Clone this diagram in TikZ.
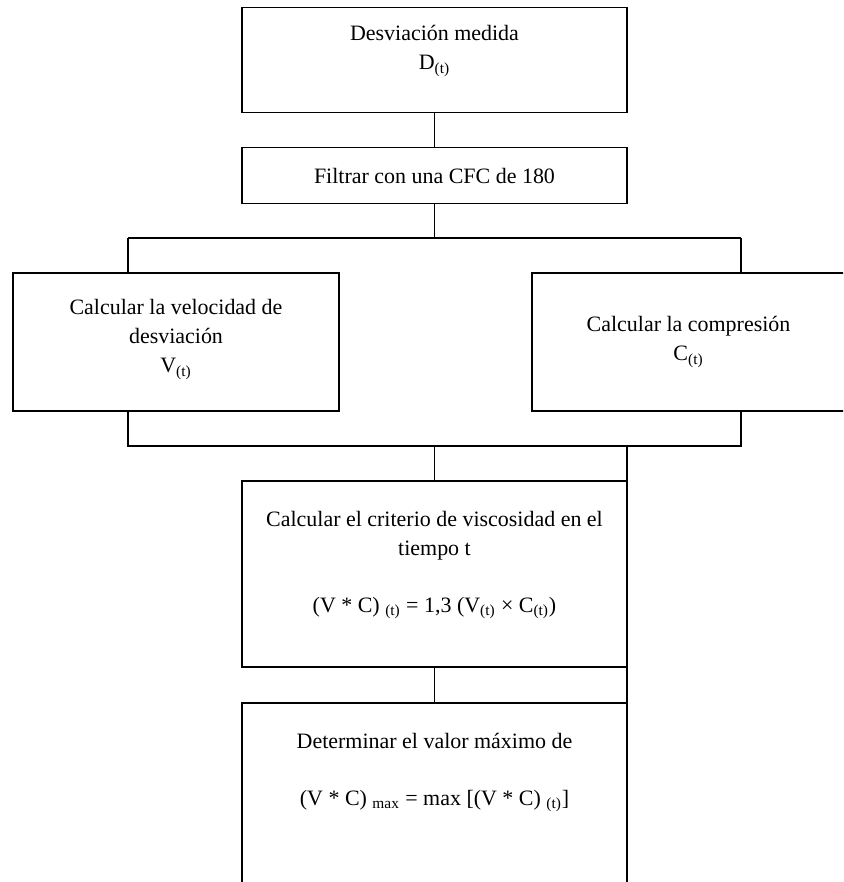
\documentclass[tikz,border=0pt]{standalone}
\usepackage{fontspec}
\setmainfont{Liberation Serif}
\usetikzlibrary{calc}

\tikzset{
  caja/.style = {draw, rectangle, outer sep=0pt, text width=6cm, align=flush center, font=\fontsize{12.5}{16.6}\selectfont},
}

\begin{document}
\begin{tikzpicture}[x=0.02cm, y=-0.02cm, line width=1pt]
      \useasboundingbox (0,0) rectangle (843,882);
      \clip (0,0) rectangle (843,882);
      \node [caja, minimum height = 2.1cm, minimum width = 7.7cm] (medida) at (434.5,60) {
        Desviación medida\\D\textsubscript{(t)}\rule[-14pt]{0pt}{0pt}};
      \node [caja, minimum height = 1.12cm, minimum width = 7.7cm] (filtro) at (434.5,175.5) {
        Filtrar con una CFC de 180};
      \node [caja, minimum height = 2.76cm, minimum width = 6.52cm] (velocidad) at (176,342) {
        Calcular la velocidad de\\desviación\\V\textsubscript{(t)}\rule[-7pt]{0pt}{0pt}};
      \node [caja, minimum height = 2.76cm, minimum width = 6.26cm] (compresion) at (688.5,342) {
        Calcular la compresión\\C\textsubscript{(t)}};
      \node [caja, text width=7cm, minimum height = 3.72cm, minimum width = 7.7cm] (criterio) at (434.5,574) {
        Calcular el criterio de viscosidad en el\\tiempo t\\[15.8pt]
        (V * C)~\textsubscript{(t)} = 1,3 (V\textsubscript{(t)} × C\textsubscript{(t)})\rule[-14pt]{0pt}{0pt}};
      \node [caja, anchor=north, minimum height = 3.94cm, minimum width = 7.7cm] (maximo) at (434.5,703) {
        Determinar el valor máximo de\\[15.8pt]
        (V * C)~\textsubscript{max} = max [(V * C)~\textsubscript{(t)}]\rule[-37pt]{0pt}{0pt}};

      \coordinate (izq) at (128,238);
      \coordinate (der) at (741,238);
      \coordinate (izqb) at (128,446);
      \coordinate (derb) at (741,446);

      \draw (medida) -- (filtro);
      \draw (filtro) -- (filtro |- izq);
      \draw (izq) -- (der);
      \draw (izq) -- (izq |- velocidad.north);
      \draw (der) -- (der |- compresion.north);
      \draw (izqb |- velocidad.south) -- (izqb) -- (derb) -- (derb |- compresion.south);
      \draw (criterio.north) -- (criterio.north |- izqb);
      \draw (criterio) -- (maximo);
      \draw (criterio.north east |- derb) -- (maximo.south east);
    \end{tikzpicture}
\end{document}
